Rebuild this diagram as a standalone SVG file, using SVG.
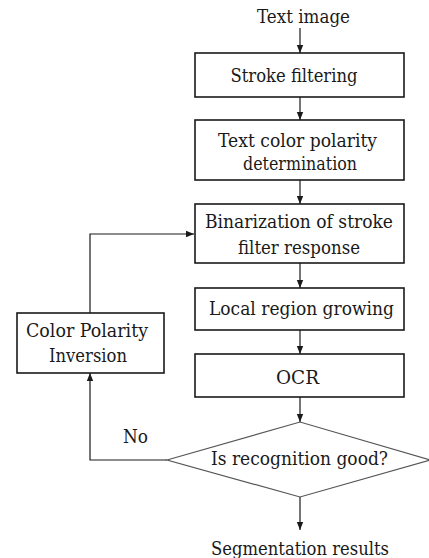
<svg xmlns="http://www.w3.org/2000/svg" width="429" height="558" viewBox="0 0 429 558">
<defs>
<marker id="ah" viewBox="0 0 8 8" refX="8" refY="4" markerWidth="8" markerHeight="8" markerUnits="userSpaceOnUse" orient="auto">
<path d="M0,0.8 L8,4 L0,7.2 Z" fill="#1a1a1a"/>
</marker>
<style>
.box{fill:#fff;stroke:#1a1a1a;stroke-width:1.6}
.dia{fill:#fff;stroke:#555;stroke-width:1.2}
.t{font-size:19px;fill:#1a1a1a;text-anchor:middle}
.c{fill:none;stroke:#1a1a1a;stroke-width:1.2}
</style>
</defs>
<rect width="429" height="558" fill="#fff"/>
<g font-family="DejaVu Serif, serif">
<g id="connectors">
<line class="c" x1="300" y1="28" x2="300" y2="53" marker-end="url(#ah)"/>
<line class="c" x1="300" y1="97" x2="300" y2="120" marker-end="url(#ah)"/>
<line class="c" x1="300" y1="180" x2="300" y2="204" marker-end="url(#ah)"/>
<line class="c" x1="300" y1="263" x2="300" y2="288" marker-end="url(#ah)"/>
<line class="c" x1="300" y1="330" x2="300" y2="354" marker-end="url(#ah)"/>
<line class="c" x1="300" y1="397" x2="300" y2="422" marker-end="url(#ah)"/>
<line class="c" x1="300" y1="497" x2="300" y2="530" marker-end="url(#ah)"/>
<polyline class="c" points="167,460 90,460 90,373" marker-end="url(#ah)"/>
<polyline class="c" points="90,313 90,234 194,234" marker-end="url(#ah)"/>
<text class="t" x="135.5" y="443" textLength="25" lengthAdjust="spacingAndGlyphs">No</text>
</g>
<g id="n-text-image"><text class="t" x="303.5" y="23" textLength="93" lengthAdjust="spacingAndGlyphs">Text image</text></g>
<g id="n-stroke"><rect class="box" x="195" y="53" width="209" height="44"/><text class="t" x="294" y="82" textLength="127" lengthAdjust="spacingAndGlyphs">Stroke filtering</text></g>
<g id="n-polarity"><rect class="box" x="195" y="120" width="209" height="60"/><text class="t" x="297.5" y="147" textLength="159" lengthAdjust="spacingAndGlyphs">Text color polarity</text><text class="t" x="300" y="170" textLength="114" lengthAdjust="spacingAndGlyphs">determination</text></g>
<g id="n-binarization"><rect class="box" x="195" y="204" width="209" height="59"/><text class="t" x="299" y="228" textLength="188" lengthAdjust="spacingAndGlyphs">Binarization of stroke</text><text class="t" x="299" y="254" textLength="122" lengthAdjust="spacingAndGlyphs">filter response</text></g>
<g id="n-growing"><rect class="box" x="195" y="288" width="209" height="42"/><text class="t" x="301.5" y="315" textLength="185" lengthAdjust="spacingAndGlyphs">Local region growing</text></g>
<g id="n-ocr"><rect class="box" x="195" y="354" width="209" height="43"/><text class="t" x="297.5" y="384" textLength="43" lengthAdjust="spacingAndGlyphs">OCR</text></g>
<g id="n-decision"><polygon class="dia" points="167,460 300,422 430,460 300,497"/><text class="t" x="299.5" y="465" textLength="177" lengthAdjust="spacingAndGlyphs">Is recognition good?</text></g>
<g id="n-inversion"><rect class="box" x="17" y="313" width="147" height="60"/><text class="t" x="87" y="337" textLength="122" lengthAdjust="spacingAndGlyphs">Color Polarity</text><text class="t" x="88" y="362" textLength="78" lengthAdjust="spacingAndGlyphs">Inversion</text></g>
<g id="n-results"><text class="t" x="300" y="555" textLength="178" lengthAdjust="spacingAndGlyphs">Segmentation results</text></g>
</g>
</svg>
